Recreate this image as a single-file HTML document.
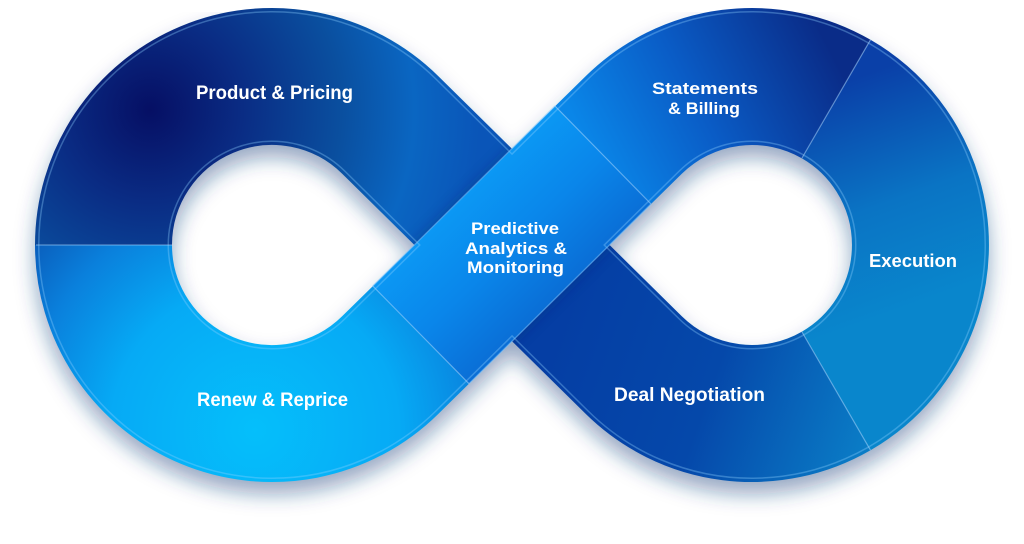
<!DOCTYPE html>
<html>
<head>
<meta charset="utf-8">
<style>
  html,body{margin:0;padding:0;background:#ffffff;}
  body{width:1024px;height:544px;overflow:hidden;}
  svg{display:block;}
  text{font-family:"Liberation Sans",Arial,sans-serif;font-weight:bold;fill:#ffffff;}
</style>
</head>
<body>
<svg width="1024" height="544" viewBox="0 0 1024 544" xmlns="http://www.w3.org/2000/svg">
  <defs>
    <filter id="shadow" filterUnits="userSpaceOnUse" x="0" y="0" width="1024" height="544">
      <feGaussianBlur stdDeviation="10"/>
    </filter>
    <filter id="soft" filterUnits="userSpaceOnUse" x="0" y="0" width="1024" height="544">
      <feGaussianBlur stdDeviation="6"/>
    </filter>

    <radialGradient id="gProduct" gradientUnits="userSpaceOnUse" cx="150" cy="110" r="330">
      <stop offset="0" stop-color="#060f64"/>
      <stop offset="0.28" stop-color="#0a2c84"/>
      <stop offset="0.58" stop-color="#0a4f9f"/>
      <stop offset="0.8" stop-color="#0a66c2"/>
      <stop offset="1" stop-color="#0a55b8"/>
    </radialGradient>

    <radialGradient id="gRenew" gradientUnits="userSpaceOnUse" cx="255" cy="430" r="320">
      <stop offset="0" stop-color="#05bffb"/>
      <stop offset="0.45" stop-color="#06aaf5"/>
      <stop offset="0.72" stop-color="#0a80dc"/>
      <stop offset="1" stop-color="#0a4cab"/>
    </radialGradient>

    <linearGradient id="gPred" gradientUnits="userSpaceOnUse" x1="464" y1="196" x2="560" y2="294">
      <stop offset="0" stop-color="#0b98f4"/>
      <stop offset="0.5" stop-color="#0a86ea"/>
      <stop offset="1" stop-color="#0a6ed6"/>
    </linearGradient>

    <linearGradient id="gState" gradientUnits="userSpaceOnUse" x1="590" y1="150" x2="820" y2="30">
      <stop offset="0" stop-color="#0a86e8"/>
      <stop offset="0.45" stop-color="#0a5cc6"/>
      <stop offset="1" stop-color="#0a2c88"/>
    </linearGradient>

    <linearGradient id="gExec" gradientUnits="userSpaceOnUse" x1="850" y1="80" x2="930" y2="300">
      <stop offset="0" stop-color="#0a40a8"/>
      <stop offset="0.55" stop-color="#0a74c4"/>
      <stop offset="1" stop-color="#0986cc"/>
    </linearGradient>

    <linearGradient id="gDeal" gradientUnits="userSpaceOnUse" x1="560" y1="320" x2="870" y2="430">
      <stop offset="0" stop-color="#053ea4"/>
      <stop offset="0.5" stop-color="#0548aa"/>
      <stop offset="1" stop-color="#0a7cc6"/>
    </linearGradient>

    <mask id="rim" maskUnits="userSpaceOnUse" x="0" y="0" width="1024" height="544">
      <rect width="1024" height="544" fill="black"/>
      <path d="M390.3 125 L633.7 365 A168.5 168.5 0 1 0 633.7 125 L390.3 365 A168.5 168.5 0 1 1 390.3 125 Z" fill="none" stroke="white" stroke-width="131"/>
      <path d="M390.3 125 L633.7 365 A168.5 168.5 0 1 0 633.7 125 L390.3 365 A168.5 168.5 0 1 1 390.3 125 Z" fill="none" stroke="black" stroke-width="128"/>
    </mask>
    <mask id="shape" maskUnits="userSpaceOnUse" x="0" y="0" width="1024" height="544">
      <rect width="1024" height="544" fill="black"/>
      <path d="M390.3 125 L633.7 365 A168.5 168.5 0 1 0 633.7 125 L390.3 365 A168.5 168.5 0 1 1 390.3 125 Z" fill="none" stroke="white" stroke-width="137"/>
    </mask>
  </defs>

  <!-- drop shadow -->
  <path d="M390.3 125 L633.7 365 A168.5 168.5 0 1 0 633.7 125 L390.3 365 A168.5 168.5 0 1 1 390.3 125 Z"
        fill="none" stroke="#1a3f7c" stroke-opacity="0.45" stroke-width="137" filter="url(#shadow)" transform="translate(0,12)"/>

  <!-- segments -->
  <path d="M103.5 245 A168.5 168.5 0 0 1 390.3 125 L512 245" fill="none" stroke="url(#gProduct)" stroke-width="137"/>
  <path d="M512 245 L633.7 365 A168.5 168.5 0 0 0 836.25 390.9" fill="none" stroke="url(#gDeal)" stroke-width="137"/>
  <path d="M836.25 390.9 A168.5 168.5 0 0 0 836.25 99.1" fill="none" stroke="url(#gExec)" stroke-width="137"/>
  <path d="M836.25 99.1 A168.5 168.5 0 0 0 633.7 125 L603.1 155.1" fill="none" stroke="url(#gState)" stroke-width="137"/>
  <path d="M420.9 334.9 L390.3 365 A168.5 168.5 0 0 1 103.5 245" fill="none" stroke="url(#gRenew)" stroke-width="137"/>

  <!-- subtle shadow of top band onto under band (masked to shape) -->
  <g mask="url(#shape)">
    <path d="M590 168 L434 322" fill="none" stroke="#062a70" stroke-opacity="0.35" stroke-width="140" filter="url(#soft)"/>
  </g>

  <!-- top band -->
  <path d="M603.1 155.1 L420.9 334.9" fill="none" stroke="url(#gPred)" stroke-width="137"/>

  <!-- rim highlight -->
  <rect width="1024" height="544" fill="#8fd0ff" fill-opacity="0.35" mask="url(#rim)"/>

  <!-- top band edges -->
  <line x1="372.8" y1="286" x2="555" y2="106" stroke="#7cc4ff" stroke-opacity="0.55" stroke-width="1.3"/>
  <line x1="469" y1="383.7" x2="651" y2="204" stroke="#7cc4ff" stroke-opacity="0.55" stroke-width="1.3"/>

  <!-- divider lines -->
  <g stroke="#a8d8ff" stroke-opacity="0.5" stroke-width="1.2">
    <line x1="36" y1="245" x2="172" y2="245"/>
    <line x1="372.8" y1="286" x2="469" y2="383.7"/>
    <line x1="555" y1="106" x2="651" y2="204"/>
    <line x1="802" y1="158" x2="870.5" y2="39.8"/>
    <line x1="802" y1="332" x2="870.5" y2="450.2"/>
  </g>

  <!-- labels -->
  <text x="196" y="99" font-size="19" textLength="157" lengthAdjust="spacingAndGlyphs">Product &amp; Pricing</text>
  <text x="197" y="406" font-size="19" textLength="151" lengthAdjust="spacingAndGlyphs">Renew &amp; Reprice</text>
  <text x="614" y="401" font-size="19" textLength="151" lengthAdjust="spacingAndGlyphs">Deal Negotiation</text>
  <text x="869" y="267" font-size="18" textLength="88" lengthAdjust="spacingAndGlyphs">Execution</text>
  <text x="652" y="94" font-size="17" textLength="106" lengthAdjust="spacingAndGlyphs">Statements</text>
  <text x="668" y="114" font-size="17" textLength="72" lengthAdjust="spacingAndGlyphs">&amp; Billing</text>
  <text x="471" y="234" font-size="17" textLength="88" lengthAdjust="spacingAndGlyphs">Predictive</text>
  <text x="465" y="254" font-size="17" textLength="102" lengthAdjust="spacingAndGlyphs">Analytics &amp;</text>
  <text x="467" y="273" font-size="17" textLength="97" lengthAdjust="spacingAndGlyphs">Monitoring</text>
</svg>
</body>
</html>
